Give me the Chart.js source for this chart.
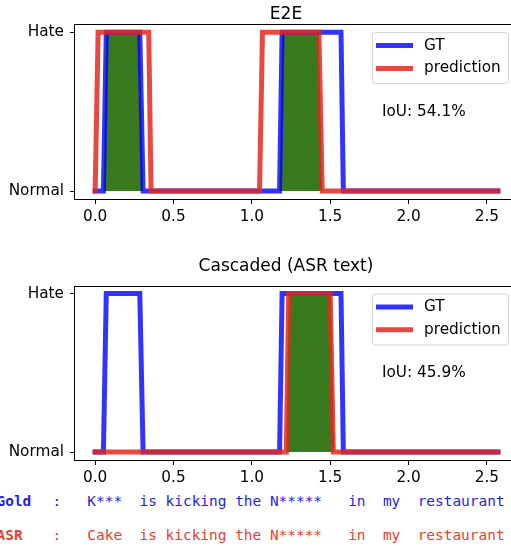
<!DOCTYPE html>
<html>
<head>
<meta charset="utf-8">
<script src="https://cdn.jsdelivr.net/npm/chart.js@4.4.0/dist/chart.umd.min.js"></script>
<style>
    html, body { margin: 0; padding: 0; background: #fff; }
    #page { position: relative; width: 511px; height: 546px; overflow: hidden; }
    .plot { position: absolute; left: 0; }
    .txt {
        position: absolute;
        font-family: "DejaVu Sans Mono", monospace;
        font-size: 14.45px;
        line-height: 20px;
        white-space: pre;
    }
    .gold { color: #1e1ee6; }
    .asr { color: #e8412f; }
    .lab { font-weight: bold; }
</style>
</head>
<body>
<div id="page">
    <div class="plot" style="top:0"><canvas id="c1" width="518" height="230"></canvas></div>
    <div class="plot" style="top:250px"><canvas id="c2" width="518" height="241"></canvas></div>
    <div class="txt gold lab" style="left:-3.5px; top:491px">Gold</div>
    <div class="txt gold" style="left:52.6px; top:491px">:   K***  is kicking the N*****   in  my  restaurant</div>
    <div class="txt asr lab" style="left:-3.5px; top:525px">ASR</div>
    <div class="txt asr" style="left:52.6px; top:525px">:   Cake  is kicking the N*****   in  my  restaurant</div>
</div>
<script>
(function () {
    'use strict';

    // values (time in s, 0 = Normal, 1 = Hate)
    var tTicks = [0, 0.5, 1, 1.5, 2, 2.5];
    var classLabels = ['Normal', 'Hate'];
    var seriesLabels = ['GT', 'prediction'];
    var panelTitles = ['E2E', 'Cascaded (ASR text)'];
    var iouTexts = ['IoU: 54.1%', 'IoU: 45.9%'];

    var gtT = [0, 0.053, 0.071, 0.285, 0.306, 1.177, 1.193, 1.569, 1.584, 2.57];
    var gtY = [0, 0, 1, 1, 0, 0, 1, 1, 0, 0];

    var e2eT = [0, 0.004, 0.019, 0.342, 0.357, 1.049, 1.068, 1.428, 1.449, 2.57];
    var e2eY = [0, 0, 1, 1, 0, 0, 1, 1, 0, 0];
    var e2eOverlapT = [0.053, 0.071, 0.285, 0.306, 1.177, 1.193, 1.428, 1.449];
    var e2eOverlapY = [0, 1, 1, 0, 0, 1, 1, 0];

    var asrT = [0, 1.22, 1.235, 1.5, 1.52, 2.57];
    var asrY = [0, 0, 1, 1, 0, 0];
    var asrOverlapT = [1.22, 1.235, 1.505, 1.525];
    var asrOverlapY = [0, 1, 1, 0];

    var BLUE = 'rgba(0, 0, 255, 0.8)';
    var RED = 'rgba(228, 40, 30, 0.85)';
    var GREEN = '#3a7a1e';
    var FONT = '"DejaVu Sans", sans-serif';
    var FS = 15.3;

    function pts(t, y) {
        return t.map(function (v, i) {
            return { x: v, y: y[i] };
        });
    }

    var panelDecor = {
        id: 'panelDecor',
        afterDatasetsDraw: function (chart, args, opts) {
            var a = chart.chartArea;
            var ctx = chart.ctx;
            ctx.save();

            // frame
            ctx.strokeStyle = '#000';
            ctx.lineWidth = 1;
            ctx.strokeRect(Math.round(a.left) - 0.5, Math.round(a.top) + 0.5,
                Math.round(a.right - a.left), Math.round(a.bottom - a.top));

            // legend box
            var bx = a.right - 146, by = a.top + 7.7, bw = 136, bh = 51;
            ctx.beginPath();
            ctx.roundRect(bx + 0.5, by + 0.5, bw, bh, 3);
            ctx.fillStyle = 'rgba(255,255,255,0.8)';
            ctx.fill();
            ctx.strokeStyle = '#d4d4d4';
            ctx.stroke();

            ctx.font = FS + 'px ' + FONT;
            ctx.textBaseline = 'middle';
            ctx.textAlign = 'left';
            opts.entries.forEach(function (e, i) {
                var ly = by + 13.5 + i * 22.8;
                ctx.beginPath();
                ctx.strokeStyle = e.color;
                ctx.lineWidth = 5;
                ctx.moveTo(bx + 4, ly);
                ctx.lineTo(bx + 41, ly);
                ctx.stroke();
                ctx.fillStyle = '#000';
                ctx.fillText(e.label, bx + 52, ly);
            });

            // IoU annotation
            ctx.fillText(opts.iou, 382, a.top + 87.5);

            // title
            ctx.font = '17px ' + FONT;
            ctx.textAlign = 'center';
            ctx.fillText(opts.title, 286, opts.titleY);
            ctx.restore();
        }
    };

    function makePanel(id, idx, predT, predY, ovT, ovY, padTop, titleY) {
        return new Chart(document.getElementById(id).getContext('2d'), {
            type: 'line',
            data: {
                datasets: [
                    {
                        label: seriesLabels[1],
                        data: pts(predT, predY),
                        borderColor: RED,
                        borderWidth: 5,
                        borderCapStyle: 'square',
                        borderJoinStyle: 'miter',
                        pointRadius: 0,
                        fill: false,
                        tension: 0,
                    },
                    {
                        label: seriesLabels[0],
                        data: pts(gtT, gtY),
                        borderColor: BLUE,
                        borderWidth: 5,
                        borderCapStyle: 'square',
                        borderJoinStyle: 'miter',
                        pointRadius: 0,
                        fill: false,
                        tension: 0,
                    },
                    {
                        label: '',
                        data: pts(ovT, ovY),
                        borderWidth: 0,
                        borderColor: 'rgba(0,0,0,0)',
                        backgroundColor: GREEN,
                        pointRadius: 0,
                        fill: 'origin',
                        tension: 0,
                    },
                ],
            },
            options: {
                responsive: false,
                animation: false,
                layout: { padding: { top: padTop, left: 0, right: 0, bottom: 0 } },
                plugins: {
                    legend: { display: false },
                    title: { display: false },
                    tooltip: { enabled: false },
                    panelDecor: {
                        title: panelTitles[idx],
                        titleY: titleY,
                        iou: iouTexts[idx],
                        entries: [
                            { label: seriesLabels[0], color: BLUE },
                            { label: seriesLabels[1], color: RED },
                        ],
                    },
                },
                scales: {
                    x: {
                        type: 'linear',
                        min: -0.1285,
                        max: 2.6985,
                        afterFit: function (s) { s.height = 31; },
                        afterBuildTicks: function (s) {
                            s.ticks = tTicks.map(function (v) { return { value: v }; });
                        },
                        ticks: {
                            color: '#000',
                            font: { family: FONT, size: FS },
                            padding: 4,
                            maxRotation: 0,
                            callback: function (v) { return Number(v).toFixed(1); },
                        },
                        grid: { drawOnChartArea: false, drawTicks: true, tickLength: 5, color: '#000' },
                        border: { display: false },
                    },
                    y: {
                        type: 'linear',
                        min: -0.05,
                        max: 1.05,
                        afterFit: function (s) { s.width = 75; },
                        afterBuildTicks: function (s) {
                            s.ticks = classLabels.map(function (l, i) { return { value: i }; });
                        },
                        ticks: {
                            color: '#000',
                            font: { family: FONT, size: FS },
                            padding: 6,
                            callback: function (v) { return classLabels[v]; },
                        },
                        grid: { drawOnChartArea: false, drawTicks: true, tickLength: 5, color: '#000' },
                        border: { display: false },
                    },
                },
            },
            plugins: [panelDecor],
        });
    }

    function init() {
        if (typeof Chart === 'undefined') {
            return;
        }
        makePanel('c1', 0, e2eT, e2eY, e2eOverlapT, e2eOverlapY, 24.4, 14.2);
        makePanel('c2', 1, asrT, asrY, asrOverlapT, asrOverlapY, 35.7, 17);
    }

    init();
})();
</script>
</body>
</html>
